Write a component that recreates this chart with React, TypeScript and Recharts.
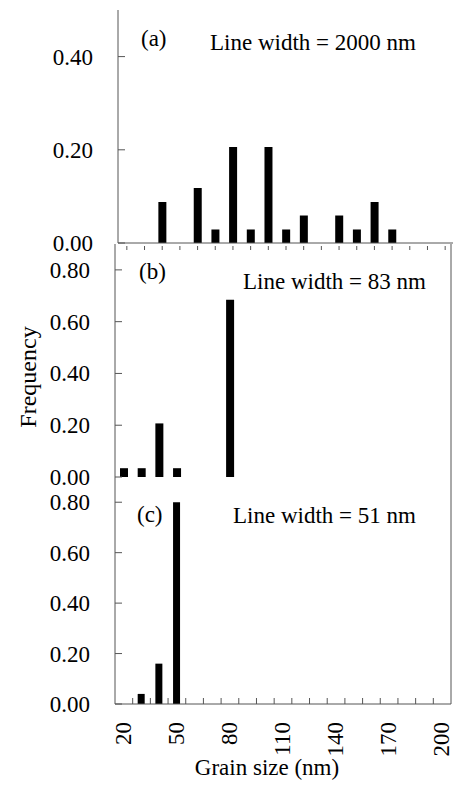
import { BarChart, Bar, XAxis, YAxis, ReferenceLine } from 'recharts';

const grainSizes = [20, 30, 40, 50, 60, 70, 80, 90, 100, 110, 120, 130, 140, 150, 160, 170, 180, 190, 200];
const freqA = [0, 0, 0.088, 0, 0.118, 0.029, 0.206, 0.029, 0.206, 0.029, 0.059, 0, 0.059, 0.029, 0.088, 0.029, 0, 0, 0];
const freqB = [0.034, 0.034, 0.207, 0.034, 0, 0, 0.685, 0, 0, 0, 0, 0, 0, 0, 0, 0, 0, 0, 0];
const freqC = [0, 0.04, 0.16, 0.8, 0, 0, 0, 0, 0, 0, 0, 0, 0, 0, 0, 0, 0, 0, 0];

const xLabelTicks = [20, 50, 80, 110, 140, 170, 200];
const xMinorTicks = [25, 35, 45, 55, 65, 75, 85, 95, 105, 115, 125, 135, 145, 155, 165, 175, 185, 195];
const yTicksA = [0, 0.2, 0.4];
const yTicksBC = [0, 0.2, 0.4, 0.6, 0.8];

const dataA = grainSizes.map((size, i) => ({ size, freq: freqA[i] }));
const dataB = grainSizes.map((size, i) => ({ size, freq: freqB[i] }));
const dataC = grainSizes.map((size, i) => ({ size, freq: freqC[i] }));

const SERIF = '"Liberation Serif", "Times New Roman", serif';
const AXIS = '#555';
const X_DOMAIN = [15, 205];

// y tick: label to the left, short tick pointing into the plot
const YTick = ({ x, y, payload }: any) => (
  <g>
    <line x1={x} x2={x + 7} y1={y} y2={y} stroke={AXIS} />
    <text x={x - 25} y={y} dy="0.35em" textAnchor="end" fontSize={23} fill="#000" fontFamily={SERIF}>
      {Number(payload.value).toFixed(2)}
    </text>
  </g>
);

// panel (a): little dashes under the axis
const DashTick = ({ x, y }: any) => <line x1={x} x2={x} y1={y + 3} y2={y + 7} stroke={AXIS} />;

// panel (c): minor ticks point up, labelled ticks are rotated text
const BottomTick = ({ x, y, payload }: any) => {
  if (payload.value % 10 === 5) {
    return <line x1={x} x2={x} y1={y} y2={y - 6} stroke={AXIS} />;
  }
  return (
    <text
      x={x + 7}
      y={y + 18}
      textAnchor="end"
      transform={`rotate(-90, ${x + 7}, ${y + 18})`}
      fontSize={23}
      fill="#000"
      fontFamily={SERIF}
    >
      {payload.value}
    </text>
  );
};

const yAxisProps = {
  type: 'number' as const,
  width: 115,
  tickSize: 0,
  tickMargin: 0,
  tickLine: false,
  interval: 0 as const,
  axisLine: { stroke: AXIS },
  tick: <YTick />,
};

export default function App() {
  return (
    <div style={{ position: 'absolute', left: 0, top: 0, width: 453, height: 787, overflow: 'hidden', background: '#fff' }}>
      {/* (a) */}
      <div style={{ position: 'absolute', left: 3, top: 0 }}>
        <BarChart width={453} height={260} data={dataA} margin={{ top: 10, right: 2, left: 0, bottom: 0 }}>
          <XAxis
            dataKey="size"
            type="number"
            domain={X_DOMAIN}
            ticks={grainSizes}
            interval={0}
            height={17}
            tickSize={0}
            tickMargin={0}
            tickLine={false}
            axisLine={{ stroke: AXIS }}
            tick={<DashTick />}
          />
          <XAxis xAxisId="top" orientation="top" dataKey="size" type="number" domain={X_DOMAIN} height={0} tick={false} tickLine={false} axisLine={{ stroke: AXIS }} />
          <YAxis {...yAxisProps} domain={[0, 0.5]} ticks={yTicksA} />
          <Bar dataKey="freq" fill="#000" barSize={8} isAnimationActive={false} />
        </BarChart>
      </div>

      {/* (b) */}
      <div style={{ position: 'absolute', left: 0, top: 244 }}>
        <BarChart width={453} height={248} data={dataB} margin={{ top: 0, right: 2, left: 0, bottom: 15 }}>
          <XAxis dataKey="size" type="number" domain={X_DOMAIN} height={0} tick={false} tickLine={false} axisLine={{ stroke: AXIS }} />
          <YAxis {...yAxisProps} domain={[0, 0.9]} ticks={yTicksBC} />
          <ReferenceLine x={205} stroke={AXIS} />
          <Bar dataKey="freq" fill="#000" barSize={8} isAnimationActive={false} />
        </BarChart>
      </div>

      {/* (c) */}
      <div style={{ position: 'absolute', left: 0, top: 477 }}>
        <BarChart width={453} height={310} data={dataC} margin={{ top: 0, right: 2, left: 0, bottom: 0 }}>
          <XAxis
            dataKey="size"
            type="number"
            domain={X_DOMAIN}
            ticks={[...xLabelTicks, ...xMinorTicks].sort((a, b) => a - b)}
            interval={0}
            height={83}
            tickSize={0}
            tickMargin={0}
            tickLine={false}
            axisLine={{ stroke: AXIS }}
            tick={<BottomTick />}
          />
          <YAxis {...yAxisProps} domain={[0, 0.9]} ticks={yTicksBC} />
          <ReferenceLine x={205} stroke={AXIS} />
          <Bar dataKey="freq" fill="#000" barSize={7} isAnimationActive={false} />
        </BarChart>
      </div>

      {/* titles and panel labels */}
      <svg width={453} height={787} style={{ position: 'absolute', left: 0, top: 0, pointerEvents: 'none' }} fontFamily={SERIF} fill="#000">
        <text x={141} y={46} fontSize={23}>(a)</text>
        <text x={210} y={50} fontSize={23}>Line width = 2000 nm</text>
        <text x={139} y={279} fontSize={23}>(b)</text>
        <text x={243} y={289} fontSize={23}>Line width = 83 nm</text>
        <text x={137} y={522} fontSize={23}>(c)</text>
        <text x={233} y={523} fontSize={23}>Line width = 51 nm</text>
        <text x={28} y={377} dy="0.35em" fontSize={24} textAnchor="middle" transform="rotate(-90, 28, 377)">Frequency</text>
        <text x={267} y={775} fontSize={23} textAnchor="middle">Grain size (nm)</text>
      </svg>
    </div>
  );
}
